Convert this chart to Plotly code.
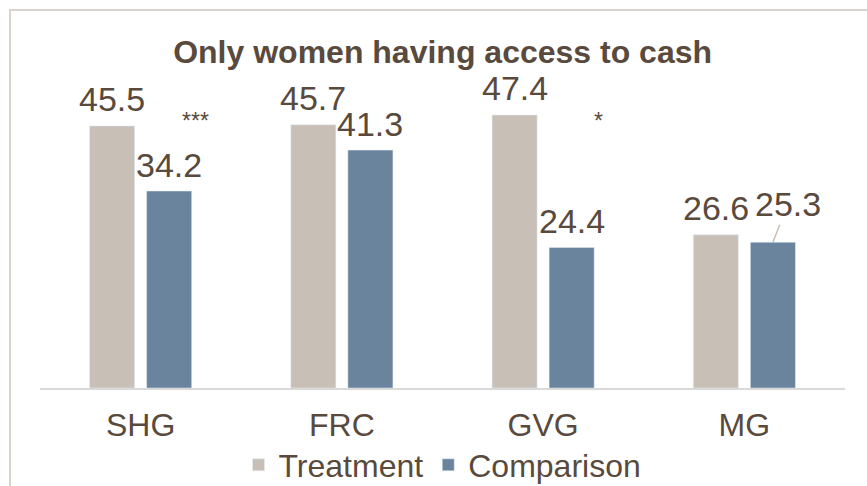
import plotly.graph_objects as go

categories = ["SHG", "FRC", "GVG", "MG"]
treatment = [45.5, 45.7, 47.4, 26.6]
comparison = [34.2, 41.3, 24.4, 25.3]
significance = ["***", "", "*", ""]

TEXT = "#594A3D"
C_T = "#C8C0B7"
C_C = "#6A849E"
FONT = "Liberation Sans, Arial, sans-serif"

fig = go.Figure()
fig.add_trace(go.Bar(name="Treatment", x=categories, y=treatment, marker_color=C_T))
fig.add_trace(go.Bar(name="Comparison", x=categories, y=comparison, marker_color=C_C))

OFF = 28.5
LS = 34
ann = []
for c, t, v in zip(categories, treatment, comparison):
    ann.append(dict(x=c, y=t, text=f"{t}", xshift=-OFF, yshift=27, showarrow=False,
                    yanchor="middle", font=dict(size=LS, color=TEXT, family=FONT)))
    if c == "MG":
        ann.append(dict(x=c, y=v, text=f"{v}", xshift=OFF, showarrow=True, arrowhead=0,
                        arrowwidth=1.5, arrowcolor=C_T, ax=15, ay=-38,
                        font=dict(size=LS, color=TEXT, family=FONT)))
    else:
        ann.append(dict(x=c, y=v, text=f"{v}", xshift=OFF, yshift=26, showarrow=False,
                        yanchor="middle", font=dict(size=LS, color=TEXT, family=FONT)))
for c, s in zip(categories, significance):
    if s:
        ann.append(dict(x=c, y=46.3, text=s, xshift=55, showarrow=False, yanchor="middle",
                        font=dict(size=23, color=TEXT, family=FONT)))

fig.update_layout(
    width=867, height=486,
    margin=dict(l=40, r=22, t=100, b=98, autoexpand=False),
    paper_bgcolor="white", plot_bgcolor="white",
    barmode="group", bargap=0.433, bargroupgap=0.21,
    title=dict(text="<b>Only women having access to cash</b>", x=0.5105, xanchor="center",
               y=1 - 52 / 486, yanchor="middle",
               font=dict(size=32, color=TEXT, family=FONT)),
    font=dict(family=FONT, color=TEXT),
    xaxis=dict(showline=True, linecolor="#D9D9D9", linewidth=2, ticks="", automargin=False,
               tickfont=dict(size=32, color=TEXT), ticklabelstandoff=8, fixedrange=True),
    yaxis=dict(range=[0, 50], visible=False, showgrid=False, fixedrange=True),
    showlegend=True,
    legend=dict(orientation="h", x=0.5, xanchor="center", yref="container",
                y=1 - 465 / 486, yanchor="middle",
                font=dict(size=32, color=TEXT), itemwidth=30, bgcolor="rgba(0,0,0,0)"),
    annotations=ann,
    shapes=[dict(type="rect", xref="paper", yref="paper", x0=-30 / 805, x1=1.2,
                 y0=-0.6, y1=378 / 288, line=dict(color="#D9D3CC", width=2),
                 fillcolor="rgba(0,0,0,0)", layer="below")],
)

fig.write_html("out.html")
